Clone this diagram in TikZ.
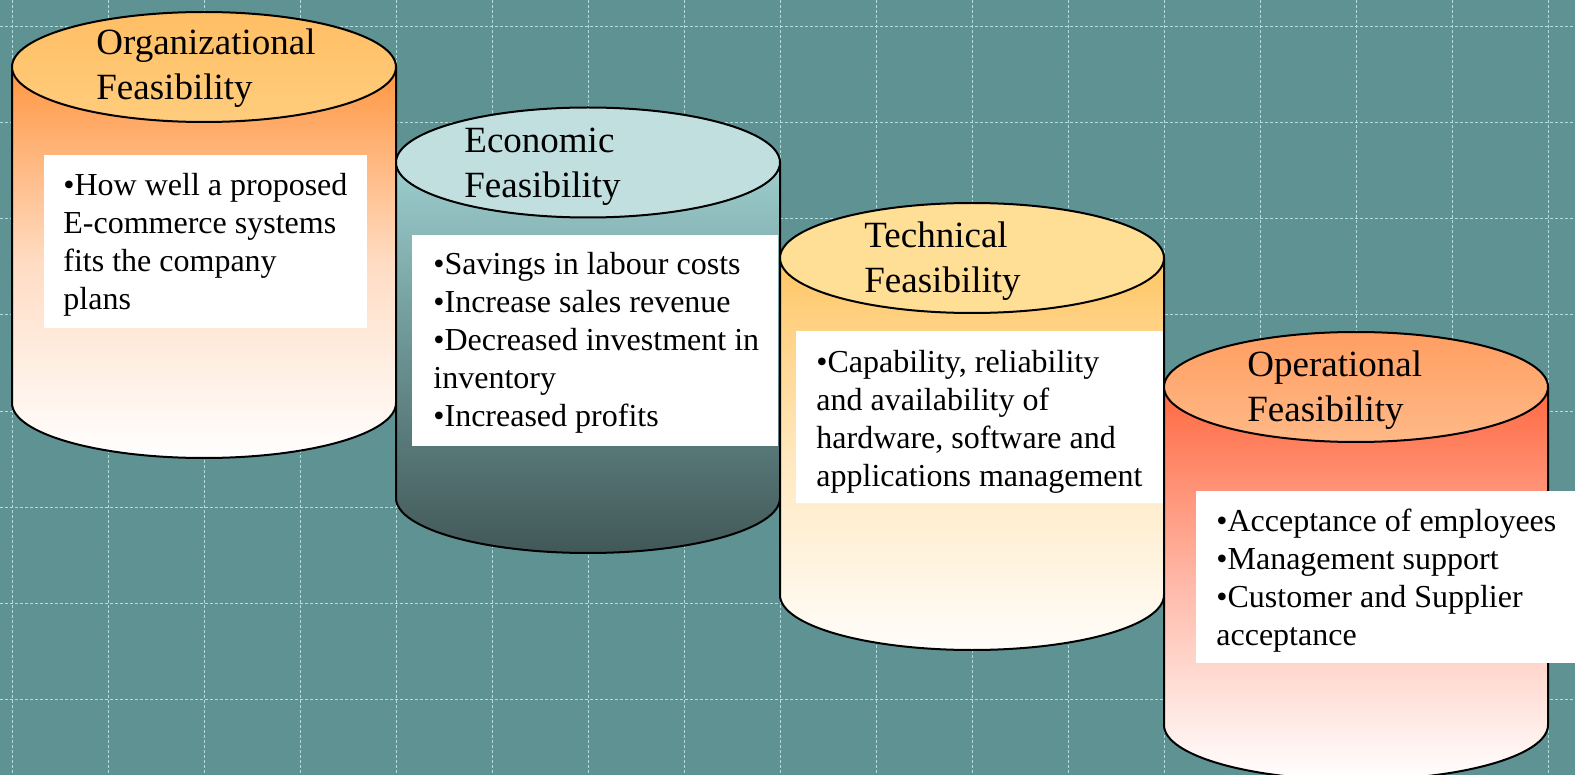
\documentclass[tikz,border=0pt]{standalone}
\usepackage{fontspec}
\setmainfont{Liberation Serif}
\definecolor{bg}{RGB}{95,146,147}
\definecolor{gridc}{RGB}{180,220,220}
\definecolor{orgA}{RGB}{255,150,65}
\definecolor{orgB}{RGB}{255,220,195}
\definecolor{orgT1}{RGB}{255,190,100}
\definecolor{orgT2}{RGB}{255,205,125}
\definecolor{ecoA}{RGB}{158,206,206}
\definecolor{ecoB}{RGB}{105,145,145}
\definecolor{ecoC}{RGB}{66,88,88}
\definecolor{ecoT}{RGB}{193,223,223}
\definecolor{tecA}{RGB}{255,198,100}
\definecolor{tecB}{RGB}{255,232,190}
\definecolor{tecC}{RGB}{255,253,250}
\definecolor{tecT}{RGB}{255,222,150}
\definecolor{opeA}{RGB}{255,105,65}
\definecolor{opeB}{RGB}{255,185,168}
\definecolor{opeT1}{RGB}{255,158,98}
\definecolor{opeT2}{RGB}{255,185,135}
\tikzset{
  titletext/.style={anchor=base west, inner sep=0pt, font=\fontsize{18.5}{22.5}\selectfont},
  bodytext/.style={anchor=base west, inner sep=0pt, font=\fontsize{16}{19}\selectfont},
  cylline/.style={draw=black, line width=1pt},
  gridline/.style={draw=gridc, line width=0.5pt, dash pattern=on 1.5pt off 1pt},
  orgbody/.style={top color=orgA, bottom color=white, middle color=orgB},
  orgtop/.style={top color=orgT1, bottom color=orgT2},
  ecobody/.style={top color=ecoA, bottom color=ecoC, middle color=ecoB},
  ecotop/.style={fill=ecoT},
  tecbody/.style={top color=tecA, bottom color=tecC, middle color=tecB},
  tectop/.style={fill=tecT},
  opebody/.style={top color=opeA, bottom color=white, middle color=opeB},
  opetop/.style={top color=opeT1, bottom color=opeT2},
}
% #1 cx, #2 top centre y, #3 bottom centre y, #4 body style, #5 top style
\newcommand\drawcyl[5]{%
  \path[#4] (#1-192,#2) -- (#1-192,#3) arc[start angle=180,end angle=360,x radius=96pt,y radius=27.5pt] -- (#1+192,#2) -- cycle;
  \path[cylline] (#1-192,#2) -- (#1-192,#3) arc[start angle=180,end angle=360,x radius=96pt,y radius=27.5pt] -- (#1+192,#2);
  \path[#5,cylline] (#1,#2) ellipse[x radius=96pt,y radius=27.5pt];
}
\begin{document}
\begin{tikzpicture}[x=0.5pt,y=-0.5pt]
\useasboundingbox (0,0) rectangle (1575,775);
\clip (0,0) rectangle (1575,775);
\fill[bg] (0,0) rectangle (1575,775);
\foreach \i in {0,...,16} {\path[gridline] (12+96*\i,0) -- (12+96*\i,775);}
\foreach \j in {0,...,7} {\path[gridline] (0,27+96*\j) -- (1575,27+96*\j);}

% Organizational
\drawcyl{204}{67}{403}{orgbody}{orgtop}
\fill[white] (44,155) rectangle (367,328);
\node[titletext] (orgtitle) at (96,55) {\begin{tabular}[t]{@{}l@{}}Organizational\\Feasibility\end{tabular}};
\node[bodytext] (orgbody) at (63,196) {\begin{tabular}[t]{@{}l@{}}•How well a proposed\\E-commerce systems\\fits the company\\plans\end{tabular}};

% Economic
\drawcyl{588}{162.5}{498}{ecobody}{ecotop}
\fill[white] (412,235) rectangle (778,446);
\node[titletext] (ecotitle) at (464,153) {\begin{tabular}[t]{@{}l@{}}Economic\\Feasibility\end{tabular}};
\node[bodytext] (ecobody) at (433,275) {\begin{tabular}[t]{@{}l@{}}•Savings in labour costs\\•Increase sales revenue\\•Decreased investment in\\inventory\\•Increased profits\end{tabular}};

% Technical
\drawcyl{972}{258}{595}{tecbody}{tectop}
\fill[white] (796,331) rectangle (1163,503);
\node[titletext] (tectitle) at (864,248) {\begin{tabular}[t]{@{}l@{}}Technical\\Feasibility\end{tabular}};
\node[bodytext] (tecbody) at (816,372) {\begin{tabular}[t]{@{}l@{}}•Capability, reliability\\and availability of\\hardware, software and\\applications management\end{tabular}};

% Operational
\drawcyl{1356}{387}{725}{opebody}{opetop}
\fill[white] (1196,491) rectangle (1575,663);
\node[titletext] (opetitle) at (1247,377) {\begin{tabular}[t]{@{}l@{}}Operational\\Feasibility\end{tabular}};
\node[bodytext] (opebody) at (1216,531) {\begin{tabular}[t]{@{}l@{}}•Acceptance of employees\\•Management support\\•Customer and Supplier\\acceptance\end{tabular}};
\end{tikzpicture}
\end{document}
